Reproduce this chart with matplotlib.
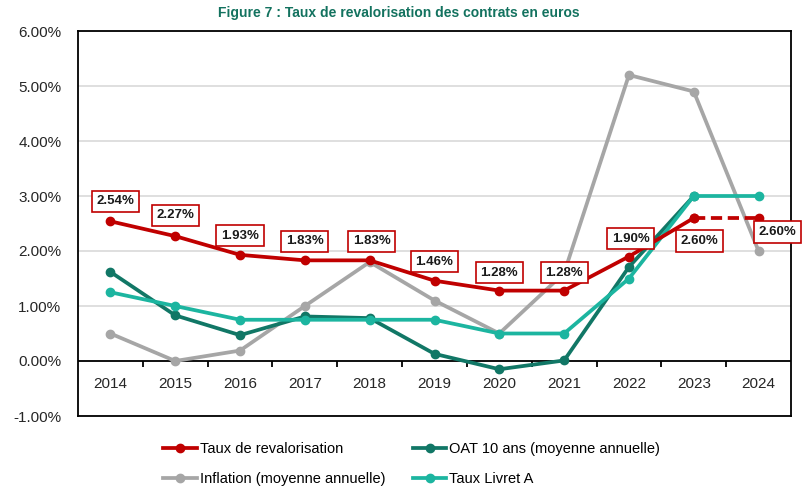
import numpy as np
import matplotlib
matplotlib.use("Agg")
import matplotlib.pyplot as plt

# Data (in %)
years = ['2014', '2015', '2016', '2017', '2018', '2019', '2020', '2021', '2022', '2023', '2024']
taux_reval = [2.54, 2.27, 1.93, 1.83, 1.83, 1.46, 1.28, 1.28, 1.90, 2.60, 2.60]
oat_10ans = [1.62, 0.83, 0.47, 0.81, 0.78, 0.13, -0.15, 0.01, 1.71, 3.00, np.nan]
inflation = [0.50, 0.00, 0.19, 1.00, 1.80, 1.10, 0.50, 1.60, 5.20, 4.90, 2.00]
livret_a = [1.25, 1.00, 0.75, 0.75, 0.75, 0.75, 0.50, 0.50, 1.50, 3.00, 3.00]
yticks = [-1, 0, 1, 2, 3, 4, 5, 6]

# label offsets in pixels (dx, dy up)
label_off = [(5, 20), (0, 21), (0, 19), (0, 19), (2, 19), (0, 19), (0, 18), (0, 18), (2, 18), (6, -23), (19, -14)]

RED = '#C00000'
DKGREEN = '#117766'
GREY = '#A6A6A6'
TEAL = '#1CB5A0'

plt.rcParams['font.family'] = ['Liberation Sans', 'DejaVu Sans']

fig = plt.figure(figsize=(8.08, 4.9), dpi=100)
ax = fig.add_axes([78 / 808, 1 - 416 / 490, (791 - 78) / 808, (416 - 31) / 490])

x = np.arange(len(years))
lw = 2.7
ms = 6

ax.plot(x, inflation, color=GREY, lw=lw, marker='o', ms=ms, label='Inflation (moyenne annuelle)', zorder=3)
ax.plot(x, oat_10ans, color=DKGREEN, lw=lw, marker='o', ms=ms, label='OAT 10 ans (moyenne annuelle)', zorder=4)
ax.plot(x, livret_a, color=TEAL, lw=lw, marker='o', ms=ms, label='Taux Livret A', zorder=5)
# taux de revalorisation: solid up to 2023, dashed for 2024
ax.plot(x[:10], taux_reval[:10], color=RED, lw=lw, marker='o', ms=ms, label='Taux de revalorisation', zorder=6)
ax.plot(x[9:], taux_reval[9:], color=RED, lw=lw, ls=(0, (3, 1.5)), marker='o', ms=ms, zorder=6)

for i, v in enumerate(taux_reval):
    dx, dy = label_off[i]
    ax.annotate('%.2f%%' % v, (x[i], v), xytext=(dx * 0.72, dy * 0.72), textcoords='offset points',
                ha='center', va='center', fontsize=9.5, fontweight='bold', color='#1a1a1a',
                bbox=dict(boxstyle='square,pad=0.35', fc='white', ec=RED, lw=1.2), zorder=10)

ax.set_xlim(-0.5, len(years) - 0.5)
ax.set_ylim(-1, 6)
ax.set_yticks(yticks)
ax.set_yticklabels(['%.2f%%' % t for t in yticks], fontsize=11, color='#262626')
ax.tick_params(axis='y', length=0, pad=12)
ax.tick_params(axis='x', bottom=False, labelbottom=False)
ax.grid(axis='y', color='#D9D9D9', lw=1.2, zorder=0)
for s in ax.spines.values():
    s.set_color('black')
    s.set_linewidth(1.3)

# category axis at 0
ax.axhline(0, color='black', lw=1.3, zorder=2)
ax.vlines(x[:-1] + 0.5, -0.1, 0, color='black', lw=1.3, zorder=2)
for i, yr in enumerate(years):
    ax.text(x[i], -0.42, yr, ha='center', va='center', fontsize=11, color='#262626')

fig.text(0.493, 0.973, 'Figure 7 : Taux de revalorisation des contrats en euros', ha='center', va='center',
         fontsize=10, fontweight='bold', color='#13725F')

h, l = ax.get_legend_handles_labels()
order = [3, 0, 1, 2]
fig.legend([h[k] for k in order], [l[k] for k in order], ncol=2, loc='center left',
           bbox_to_anchor=(150 / 808, 1 - 464 / 490), frameon=False, fontsize=10.5,
           handlelength=2.3, handletextpad=0.2, columnspacing=1.9, labelspacing=1.05)

fig.savefig('out.png', dpi=100)
